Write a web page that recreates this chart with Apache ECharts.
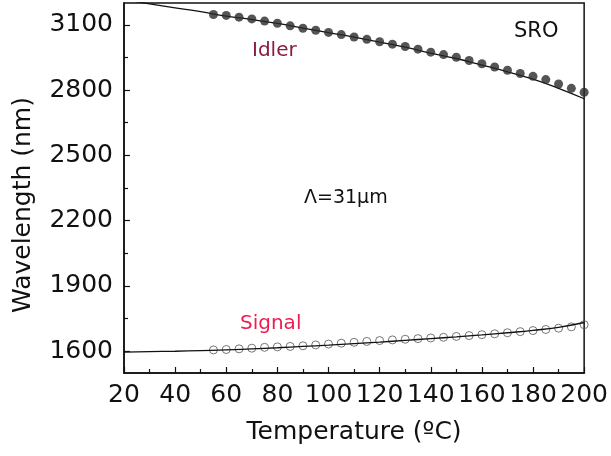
<!DOCTYPE html>
<html><head><meta charset="utf-8">
<script src="https://cdn.jsdelivr.net/npm/echarts@6/dist/echarts.min.js"></script>
<style>html,body{margin:0;padding:0;background:#fff}#c{width:611px;height:456px}</style>
</head><body><div id="c"></div>
<script>
// Measured points (Temperature in °C)
const markerTemps = [55,60,65,70,75,80,85,90,95,100,105,110,115,120,125,130,135,140,145,150,155,160,165,170,175,180,185,190,195,200];
const idlerMeasured = [3147,3143,3135,3127,3117,3107,3095,3084,3075,3065,3055,3044,3033,3022,3011,3000,2988,2974,2963,2951,2936,2921,2906,2891,2876,2863,2848,2828,2808,2790];
const signalMeasured = [1606,1608,1611,1614,1618,1620,1622,1625,1629,1633,1637,1641,1645,1649,1652,1655,1658,1661,1664,1668,1672,1676,1680,1685,1690,1695,1700,1706,1712,1722];
// Calculated curves
const fitTemps = [20,30,40,50,60,70,80,90,100,110,120,130,140,150,160,170,180,190,200];
const idlerFit = [3215,3196,3178,3160,3140,3124,3106,3085,3064,3043,3020,2997,2970,2945,2915,2884,2850,2808,2760];
const signalFit = [1596,1598,1600,1603,1606,1611,1616,1622,1628,1635,1642,1650,1658,1666,1675,1685,1696,1710,1732];
// Axis ticks
const yLabelValues = [1600,1900,2200,2500,2800,3100];
const yMinorValues = [1750,2050,2350,2650,2950];

const FONT = 'DejaVu Sans';
const chart = echarts.init(document.getElementById('c'), null, {renderer:'canvas'});
const zip = (xs, ys) => xs.map((x,i)=>[x, ys[i]]);

chart.setOption({
  animation: false,
  backgroundColor: '#fff',
  grid: {left:124, right:24, top:3, bottom:83, show:true, borderColor:'#111', borderWidth:1.5, backgroundColor:'transparent'},
  xAxis: {
    type:'value', min:20, max:200, interval:20,
    name:'Temperature (ºC)', nameLocation:'middle', nameGap:47,
    nameTextStyle:{fontFamily:FONT, fontSize:25, color:'#111'},
    axisLine:{lineStyle:{color:'#111', width:1.5}},
    axisTick:{inside:true, length:6, lineStyle:{color:'#111', width:1.2}},
    minorTick:{show:true, splitNumber:2, length:4, lineStyle:{color:'#111', width:1.2}},
    axisLabel:{fontFamily:FONT, fontSize:25, color:'#111', margin:10, formatter:v=>String(v)},
    splitLine:{show:false}
  },
  yAxis: [{
    type:'value', min:1500, max:3200,
    name:'Wavelength (nm)', nameLocation:'middle', nameGap:88,
    nameTextStyle:{fontFamily:FONT, fontSize:25, color:'#111', padding:[0,34,0,0]},
    axisLine:{lineStyle:{color:'#111', width:1.5}},
    axisTick:{inside:true, length:6, customValues:yLabelValues, lineStyle:{color:'#111', width:1.2}},
    axisLabel:{fontFamily:FONT, fontSize:25, color:'#111', margin:11, customValues:yLabelValues, formatter:v=>String(v)},
    splitLine:{show:false}
  },{
    type:'value', min:1500, max:3200, position:'left',
    axisLine:{show:false},
    axisTick:{inside:true, length:4, customValues:yMinorValues, lineStyle:{color:'#111', width:1.2}},
    axisLabel:{show:false},
    splitLine:{show:false}
  }],
  series: [
    {type:'line', data:zip(fitTemps, idlerFit), smooth:true, symbol:'none', lineStyle:{color:'#111', width:1.3}, z:2},
    {type:'line', data:zip(fitTemps, signalFit), smooth:true, symbol:'none', lineStyle:{color:'#111', width:1.3}, z:3},
    {type:'scatter', data:zip(markerTemps, idlerMeasured), symbol:'circle', symbolSize:9, itemStyle:{color:'#2a2a2a'}, z:4},
    {type:'scatter', data:zip(markerTemps, signalMeasured), symbol:'circle', symbolSize:8, itemStyle:{color:'rgba(0,0,0,0)', borderColor:'#555', borderWidth:1}, z:1}
  ],
  graphic: [
    {type:'text', left:252, top:41, style:{text:'Idler', font:'20px "DejaVu Sans"', fill:'#8b1c3f'}},
    {type:'text', left:240, top:314, style:{text:'Signal', font:'20px "DejaVu Sans"', fill:'#ee1c4f'}},
    {type:'text', left:514, top:21, style:{text:'SRO', font:'21px "DejaVu Sans"', fill:'#111'}},
    {type:'text', left:304, top:189, style:{text:'Λ=31μm', font:'19px "DejaVu Sans"', fill:'#111'}}
  ]
});
</script></body></html>
